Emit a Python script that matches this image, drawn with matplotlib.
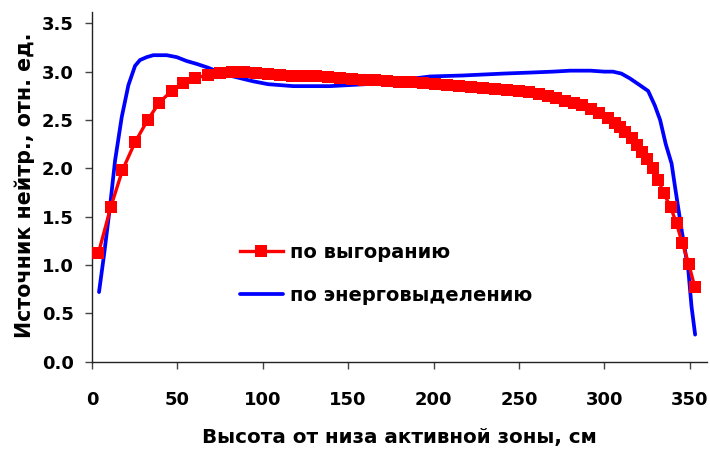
import matplotlib
matplotlib.use("Agg")
import matplotlib.pyplot as plt

# --- data ---
burnup_x = [3.7, 11, 17.8, 25.2, 32.6, 39.4, 46.6, 53.5, 60.3, 68, 75, 82, 89, 96,
            103, 110, 117, 124, 131, 138, 145, 152, 159, 166, 173, 180, 187, 194,
            201, 208, 215, 222, 229, 236, 243, 250, 256, 262, 267, 272, 277, 282,
            287, 292, 297, 302, 306.2, 309.2, 312.1, 316, 318.9, 321.8, 324.8,
            328.6, 331.6, 334.9, 338.8, 342.3, 345.6, 349.5, 353]
burnup_y = [1.12, 1.60, 1.98, 2.27, 2.50, 2.68, 2.80, 2.88, 2.93, 2.97, 2.99, 3.00, 3.00, 2.99,
            2.98, 2.97, 2.96, 2.95, 2.95, 2.94, 2.93, 2.92, 2.91, 2.91, 2.90, 2.89, 2.89, 2.88,
            2.87, 2.86, 2.85, 2.84, 2.83, 2.82, 2.81, 2.80, 2.79, 2.77, 2.75, 2.73, 2.70, 2.68,
            2.65, 2.61, 2.57, 2.52, 2.47, 2.43, 2.38, 2.31, 2.24, 2.17, 2.10,
            2.00, 1.88, 1.74, 1.60, 1.43, 1.23, 1.01, 0.77]

power_x = [4.1, 7, 10.5, 13.5, 17.4, 21.3, 25.2, 28.1, 32, 35.9, 43.7, 49.6, 55.4, 61.3,
           68.1, 75, 82.7, 94.4, 103.2, 117.9, 139.3, 160, 180, 198, 217, 241, 256,
           270, 280, 292, 300, 305, 310, 315, 320.8, 325.7, 329.6, 332.7, 336, 339.4,
           341.5, 343.5, 345.3, 349.2, 351.1, 353.2]
power_y = [0.72, 1.10, 1.60, 2.08, 2.53, 2.86, 3.06, 3.12, 3.15, 3.17, 3.17, 3.15, 3.11, 3.08,
           3.04, 2.99, 2.95, 2.90, 2.87, 2.85, 2.85, 2.87, 2.91, 2.95, 2.96, 2.98, 2.99,
           3.00, 3.01, 3.01, 3.00, 3.00, 2.98, 2.93, 2.86, 2.80, 2.65, 2.50, 2.25, 2.05,
           1.80, 1.57, 1.36, 0.95, 0.57, 0.28]

label_burnup = "по выгоранию"
label_power = "по энерговыделению"
xlabel = "Высота от низа активной зоны, см"
ylabel = "Источник нейтр., отн. ед."
xticks = [0, 50, 100, 150, 200, 250, 300, 350]
yticks = [0.0, 0.5, 1.0, 1.5, 2.0, 2.5, 3.0, 3.5]

plt.rcParams['font.family'] = ['DejaVu Sans']
plt.rcParams['font.weight'] = 'bold'

fig = plt.figure(figsize=(7.1, 4.55), dpi=100)
ax = fig.add_axes([0.1296, 0.2051, 0.8658, 0.7692])

ax.plot(power_x, power_y, color='#0000FF', lw=2.7, label=label_power, zorder=2,
        solid_capstyle='round')
ax.plot(burnup_x, burnup_y, color='#FF0000', lw=2.4, marker='s', markersize=8.8,
        markeredgewidth=0, label=label_burnup, zorder=3)

ax.set_xlim(0, 360)
ax.set_ylim(0, 3.62)
ax.set_xticks(xticks)
ax.set_yticks(yticks)
ax.set_xticklabels([str(v) for v in xticks])
ax.set_yticklabels([f"{v:.1f}" for v in yticks])

for s in ['top', 'right']:
    ax.spines[s].set_visible(False)
for s in ['left', 'bottom']:
    ax.spines[s].set_color('#222222')
    ax.spines[s].set_linewidth(1.0)

ax.tick_params(axis='both', direction='out', length=5, width=1.0, color='#444444',
               labelsize=13, labelcolor='black')
ax.tick_params(axis='x', pad=16)
ax.tick_params(axis='y', pad=8)
for lbl in ax.get_xticklabels() + ax.get_yticklabels():
    lbl.set_fontweight('bold')

ax.set_xlabel(xlabel, fontsize=14.3, fontweight='bold')
ax.set_ylabel(ylabel, fontsize=14.8, fontweight='bold')
ax.xaxis.set_label_coords(0.5, -0.19)
ax.yaxis.set_label_coords(-0.093, 0.505)

handles, labels = ax.get_legend_handles_labels()
leg = ax.legend(handles[::-1], labels[::-1], loc='center left',
                bbox_to_anchor=(0.2408, 0.251), frameon=False, borderpad=0,
                borderaxespad=0, handlelength=2.2, handletextpad=0.35,
                labelspacing=1.25, prop={'size': 14, 'weight': 'bold'})

fig.savefig("out.png", dpi=100, facecolor='white')
